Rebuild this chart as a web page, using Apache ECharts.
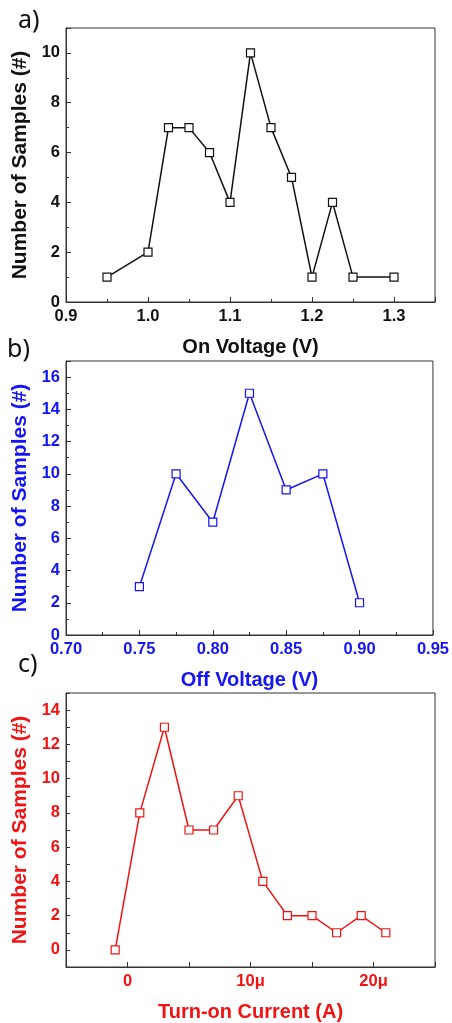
<!DOCTYPE html>
<html>
<head>
<meta charset="utf-8">
<script src="https://cdn.jsdelivr.net/npm/echarts@6/dist/echarts.min.js"></script>
<style>
html,body{margin:0;padding:0;background:#fff;}
#chart{width:452px;height:1023px;}
</style>
</head>
<body>
<div id="chart"></div>
<script>
// Panel a: On Voltage
const onVoltage = [0.95, 1.0, 1.025, 1.05, 1.075, 1.1, 1.125, 1.15, 1.175, 1.2, 1.225, 1.25, 1.3];
const onCounts  = [1, 2, 7, 7, 6, 4, 10, 7, 5, 1, 4, 1, 1];
// Panel b: Off Voltage
const offVoltage = [0.75, 0.775, 0.8, 0.825, 0.85, 0.875, 0.9];
const offCounts  = [3, 10, 7, 15, 9, 10, 2];
// Panel c: Turn-on Current (in micro-amps)
const currentMicroA = [-1, 1, 3, 5, 7, 9, 11, 13, 15, 17, 19, 21];
const currentCounts = [0, 8, 13, 7, 7, 9, 4, 2, 2, 1, 2, 1];
// Tick labels for panel c x axis
const currentTickLabels = {0: '0', 10: '10\u03bc', 20: '20\u03bc'};

const FONT = "Arial, 'Liberation Sans', sans-serif";
const BLACK = '#111111';
const BLUE = '#1414f5';
const RED = '#f21212';
const AXIS = '#333333';

function pair(xs, ys){ return xs.map((x,i)=>[x, ys[i]]); }

function xAxisCfg(idx, name, color, min, max, interval, fmt){
  return {
    type:'value', gridIndex: idx, min, max, interval,
    name, nameLocation:'middle', nameGap: 35,
    nameTextStyle:{color, fontFamily:FONT, fontWeight:'bold', fontSize:20},
    axisLine:{show:true, onZero:false, lineStyle:{color:AXIS, width:1}},
    axisTick:{show:true, inside:true, length:5, lineStyle:{color:AXIS}},
    minorTick:{show:true, splitNumber:2, length:3, lineStyle:{color:AXIS}},
    splitLine:{show:false},
    axisLabel:{color, fontFamily:FONT, fontWeight:'bold', fontSize:16.5, margin:6, formatter: fmt, showMaxLabel: true}
  };
}
function yAxisCfg(idx, color, min, max, interval, fmt, minor){
  return {
    type:'value', gridIndex: idx, min, max, interval,
    name:'Number of Samples (#)', nameLocation:'middle', nameGap: 32,
    nameTextStyle:{color, fontFamily:FONT, fontWeight:'bold', fontSize:21},
    axisLine:{show:true, onZero:false, lineStyle:{color:AXIS, width:1}},
    axisTick:{show:true, inside:true, length: minor ? 5 : 4, lineStyle:{color:AXIS}},
    minorTick:{show:minor, splitNumber:2, length:3, lineStyle:{color:AXIS}},
    splitLine:{show:false},
    axisLabel:{color, fontFamily:FONT, fontWeight:'bold', fontSize:16.5, margin:6, formatter: fmt}
  };
}
function seriesCfg(idx, data, color){
  return {
    type:'line', xAxisIndex: idx, yAxisIndex: idx, data,
    symbol:'rect', symbolSize:8, showAllSymbol:true,
    lineStyle:{color, width:1.5},
    itemStyle:{color:'#ffffff', borderColor:color, borderWidth:1.2},
    animation:false, z:3
  };
}

const grids = [28, 361, 693].map(top => ({
  left:66, width:369, top, height:274,
  show:true, borderColor:AXIS, borderWidth:1, backgroundColor:'transparent'
}));

const option = {
  animation:false,
  backgroundColor:'#ffffff',
  grid: grids,
  xAxis: [
    xAxisCfg(0, 'On Voltage (V)', BLACK, 0.9, 1.35, 0.1, v => (Math.abs(v-1.35)<1e-6 ? '' : v.toFixed(1))),
    xAxisCfg(1, 'Off Voltage (V)', BLUE, 0.7, 0.95, 0.05, v => v.toFixed(2)),
    Object.assign(xAxisCfg(2, 'Turn-on Current (A)', RED, -5, 25, 5, v => (currentTickLabels[Math.round(v)] !== undefined ? currentTickLabels[Math.round(v)] : '')), {minorTick:{show:false}})
  ],
  yAxis: [
    yAxisCfg(0, BLACK, 0, 11, 2, v => (v===11 ? '' : String(v)), true),
    yAxisCfg(1, BLUE, 0, 17, 2, v => (v===17 ? '' : String(v)), true),
    yAxisCfg(2, RED, -1, 15, 1, v => ((Math.round(v) % 2 === 0) ? String(Math.round(v)) : ''), false)
  ],
  series: [
    seriesCfg(0, pair(onVoltage, onCounts), BLACK),
    seriesCfg(1, pair(offVoltage, offCounts), BLUE),
    seriesCfg(2, pair(currentMicroA, currentCounts), RED)
  ],
  graphic: [
    {type:'text', left:18, top:8, style:{text:'a)', fill:'#111', font:"25px 'Noto Sans', 'Open Sans', sans-serif"}},
    {type:'text', left:7, top:337, style:{text:'b)', fill:'#111', font:"25px 'Noto Sans', 'Open Sans', sans-serif"}},
    {type:'text', left:18, top:652, style:{text:'c)', fill:'#111', font:"25px 'Noto Sans', 'Open Sans', sans-serif"}}
  ]
};

const chart = echarts.init(document.getElementById('chart'), null, {renderer:'canvas'});
chart.setOption(option);
</script>
</body>
</html>
